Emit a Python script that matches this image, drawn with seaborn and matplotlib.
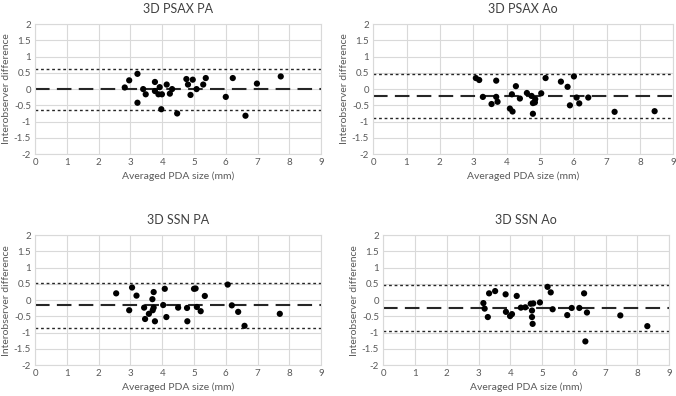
import matplotlib
matplotlib.use("Agg")
import matplotlib.pyplot as plt
import numpy as np
import pandas as pd
import seaborn as sns

# panel titles
titles = ["3D PSAX PA", "3D PSAX Ao", "3D SSN PA", "3D SSN Ao"]

# 3D PSAX PA
psax_pa_x = [2.82, 2.96, 3.22, 3.22, 3.40, 3.48, 3.77, 3.77, 3.88, 3.92, 3.99, 3.97,
             4.14, 4.24, 4.31, 4.47, 4.76, 4.81, 4.96, 4.89, 5.08, 5.29, 5.37, 6.00,
             6.22, 6.62, 6.98, 7.73]
psax_pa_y = [0.05, 0.27, 0.47, -0.42, 0.00, -0.16, 0.22, -0.06, -0.16, 0.06, -0.16, -0.62,
             0.14, -0.14, 0.00, -0.75, 0.31, 0.14, 0.29, -0.18, 0.00, 0.14, 0.34, -0.24,
             0.34, -0.82, 0.17, 0.39]

# 3D PSAX Ao
psax_ao_x = [3.08, 3.18, 3.29, 3.55, 3.69, 3.69, 3.73, 4.10, 4.18, 4.16, 4.28, 4.40,
             4.61, 4.75, 4.79, 4.85, 4.86, 4.79, 5.04, 5.17, 5.63, 5.83, 5.90, 6.02,
             6.10, 6.18, 6.45, 7.24, 8.44]
psax_ao_y = [0.34, 0.28, -0.24, -0.46, 0.26, -0.24, -0.39, -0.60, -0.69, -0.16, 0.09, -0.29,
             -0.12, -0.21, -0.43, -0.41, -0.31, -0.76, -0.13, 0.34, 0.23, 0.07, -0.50, 0.39,
             -0.26, -0.44, -0.26, -0.70, -0.68]

# 3D SSN PA
ssn_pa_x = [2.55, 2.96, 3.05, 3.19, 3.43, 3.46, 3.58, 3.69, 3.73, 3.70, 3.73, 3.77,
            4.03, 4.08, 4.13, 4.50, 4.78, 4.79, 5.00, 5.05, 5.09, 5.21, 5.34, 6.06,
            6.19, 6.39, 6.59, 7.70]
ssn_pa_y = [0.21, -0.31, 0.39, 0.14, -0.23, -0.58, -0.42, 0.03, 0.25, -0.31, -0.23, -0.65,
            -0.15, 0.35, -0.52, -0.23, -0.24, -0.65, 0.35, 0.36, -0.21, -0.34, 0.13, 0.48,
            -0.16, -0.36, -0.79, -0.42]

# 3D SSN Ao
ssn_ao_x = [3.15, 3.19, 3.29, 3.33, 3.52, 3.85, 3.86, 3.99, 4.05, 4.20, 4.33, 4.47,
            4.64, 4.68, 4.72, 4.68, 4.70, 4.93, 5.17, 5.27, 5.33, 5.79, 5.93, 6.17,
            6.32, 6.41, 6.36, 7.46, 8.31]
ssn_ao_y = [-0.09, -0.26, -0.52, 0.21, 0.28, 0.18, -0.36, -0.49, -0.43, 0.13, -0.23, -0.22,
            -0.11, -0.32, -0.10, -0.52, -0.73, -0.07, 0.41, 0.24, -0.28, -0.46, -0.24, -0.24,
            0.21, -0.38, -1.27, -0.47, -0.80]

# bias and limits of agreement (mean, upper, lower)
means = [0.0, -0.22, -0.16, -0.24]
upper = [0.62, 0.45, 0.53, 0.47]
lower = [-0.64, -0.89, -0.85, -0.96]

xs = [psax_pa_x, psax_ao_x, ssn_pa_x, ssn_ao_x]
ys = [psax_pa_y, psax_ao_y, ssn_pa_y, ssn_ao_y]

# axes rectangles in figure fractions
rects = [
    [0.052, 0.611, 0.423, 0.328],
    [0.552, 0.611, 0.444, 0.328],
    [0.052, 0.078, 0.423, 0.328],
    [0.567, 0.078, 0.423, 0.328],
]

sns.set_theme(style="white")
plt.rcParams["font.family"] = ["Lato", "DejaVu Sans"]

fig = plt.figure(figsize=(6.76, 3.96), dpi=100)
grid_c = "#d9d9d9"
text_c = "#595959"

for i in range(4):
    ax = fig.add_axes(rects[i])
    df = pd.DataFrame({"x": xs[i], "y": ys[i]})
    ax.axhline(means[i], color="#262626", lw=1.5, dashes=(7, 3.5), zorder=2)
    ax.axhline(upper[i], color="#262626", lw=1.0, dashes=(2, 2), zorder=2)
    ax.axhline(lower[i], color="#262626", lw=1.0, dashes=(2, 2), zorder=2)
    sns.scatterplot(data=df, x="x", y="y", ax=ax, color="black", s=20,
                    edgecolor="none", zorder=3)
    ax.set_xlim(0, 9)
    ax.set_ylim(-2, 2)
    ax.set_xticks(np.arange(0, 10, 1))
    ax.set_yticks(np.arange(-2, 2.01, 0.5))
    ax.set_yticklabels(["-2", "-1.5", "-1", "-0.5", "0", "0.5", "1", "1.5", "2"])
    ax.grid(True, color=grid_c, lw=0.8, zorder=0)
    ax.set_axisbelow(True)
    for s in ax.spines.values():
        s.set_color(grid_c)
        s.set_linewidth(0.8)
    ax.tick_params(axis="both", length=0, labelsize=7, colors=text_c, pad=3)
    ax.set_xlabel("Averaged PDA size (mm)", fontsize=7.5, color=text_c, labelpad=3)
    ax.set_ylabel("Interobserver difference", fontsize=7.5, color=text_c, labelpad=2)
    ax.set_title(titles[i], fontsize=9, color="#404040", pad=8)

fig.savefig("out.png", dpi=100)
